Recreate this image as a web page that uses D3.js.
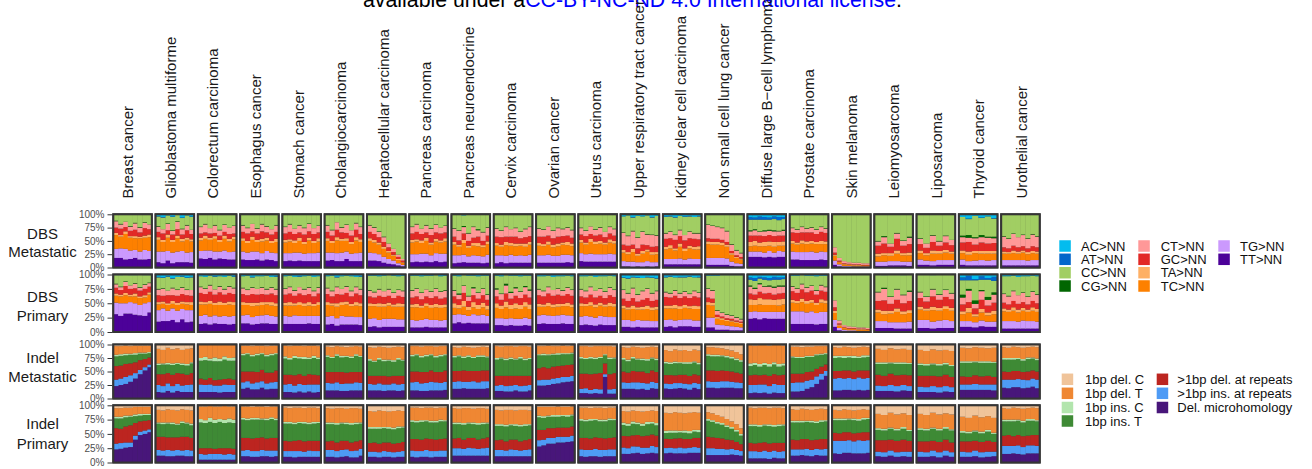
<!DOCTYPE html>
<html><head><meta charset="utf-8">
<script src="https://cdn.jsdelivr.net/npm/d3@7"></script>
<style>body{margin:0;background:#fff;} svg{display:block;font-family:"Liberation Sans",Arial,Helvetica,sans-serif;}</style>
</head><body><svg id="c" width="1312" height="469"></svg>
<script>
const cancerTypes = ["Breast cancer","Glioblastoma multiforme","Colorectum carcinoma","Esophagus cancer","Stomach cancer","Cholangiocarcinoma","Hepatocellular carcinoma","Pancreas carcinoma","Pancreas neuroendocrine","Cervix carcinoma","Ovarian cancer","Uterus carcinoma","Upper respiratory tract cancer","Kidney clear cell carcinoma","Non small cell lung cancer","Diffuse large B\u2212cell lymphoma","Prostate carcinoma","Skin melanoma","Leiomyosarcoma","Liposarcoma","Thyroid cancer","Urothelial cancer"];
const dbsClasses = ["AC>NN","AT>NN","CC>NN","CG>NN","CT>NN","GC>NN","TA>NN","TC>NN","TG>NN","TT>NN"];
const dbsColors = ["#03BCEE","#0266CA","#A1CE63","#016601","#FF9898","#E22926","#FEB065","#FD8000","#CB99FD","#4C0199"];
const indelClasses = ["1bp del. C","1bp del. T","1bp ins. C","1bp ins. T",">1bp del. at repeats",">1bp ins. at repeats","Del. microhomology"];
const indelColors = ["#F0C49A","#EF8733","#B2E5AD","#3E8A35","#BC2520","#4E9BF5","#48167A"];
const yTicks = [0, 0.25, 0.5, 0.75, 1];
const rowNames = [["DBS","Metastatic"],["DBS","Primary"],["Indel","Metastatic"],["Indel","Primary"]];

// bars separated by "|", values in class order (relative, normalised per bar)
const dbsMetastatic = [
"0 0 12 1 12 10 4 26 17 18|0 0 18 1 8 12 3 22 18 18|0 0 14 0 10 8 5 28 20 15|0 0 22 1 8 10 3 24 16 16|0 0 16 1 12 12 4 22 15 18|0 0 24 1 9 8 3 25 15 15|0 0 15 1 10 14 4 23 18 15|0 0 19 0 9 10 5 26 15 16",
"3 1 18 1 10 10 5 22 20 10|5 1 22 0 8 12 4 18 22 8|2 0 15 1 12 8 6 25 18 13|4 1 25 1 7 10 4 20 20 8|1 0 12 1 14 12 5 25 20 10|6 1 20 1 10 8 5 18 21 10|2 0 18 1 9 14 4 24 18 10|4 1 24 0 8 10 4 20 20 9",
"1 0 22 1 12 8 5 20 14 17|0 0 18 1 15 6 6 22 16 16|1 0 25 0 10 8 4 20 14 18|0 0 20 1 14 6 5 24 15 15|1 0 28 1 10 8 4 18 13 17|0 0 19 1 13 7 6 22 16 16|1 0 24 0 12 9 5 20 14 15|0 0 21 1 14 6 5 23 15 15",
"0 0 20 1 12 12 5 20 15 15|1 0 24 1 10 14 4 18 14 14|0 0 18 0 14 10 6 22 16 14|0 0 26 1 9 12 4 18 15 15|1 0 17 1 13 14 5 22 14 13|0 0 22 1 11 10 5 20 16 15|0 0 28 0 10 12 4 18 14 14|1 0 19 1 12 13 6 21 15 12",
"1 0 22 1 12 12 5 20 15 12|0 0 18 1 14 14 4 22 14 13|1 0 26 0 10 12 5 18 16 12|0 0 20 1 13 10 6 22 15 13|1 0 24 1 12 14 4 18 14 12|0 0 17 1 14 12 5 24 15 12|1 0 25 0 11 13 4 19 15 12|0 0 21 1 12 11 6 21 16 12",
"0 0 20 1 12 12 5 22 15 13|1 0 28 1 10 10 4 18 14 14|0 0 15 0 14 14 6 24 15 12|0 0 24 1 9 12 4 22 16 12|1 0 18 1 15 10 5 20 14 16|0 0 30 0 10 12 4 18 14 12|0 0 16 1 12 14 6 24 15 12|1 0 22 1 13 10 5 20 16 12",
"0 0 20 1 12 12 5 22 15 13|0 0 24 1 12 11 5 20 14 13|0 0 32 1 10 10 4 18 13 12|0 0 42 1 9 9 4 15 11 9|0 0 55 0 7 7 3 12 9 7|0 0 65 0 6 5 2 9 7 6|0 0 76 0 4 4 2 6 4 4|0 0 84 0 3 3 1 4 3 2",
"1 0 22 1 12 12 5 22 15 10|0 0 18 1 14 14 4 24 14 11|1 0 26 0 10 12 5 20 16 10|0 0 20 1 13 10 6 24 15 11|1 0 25 1 12 14 4 20 13 10|0 0 19 1 14 12 5 22 15 12|1 0 24 0 11 13 4 21 16 10|0 0 21 1 12 11 6 23 15 11",
"1 0 25 1 15 10 5 20 15 8|0 0 30 1 18 8 4 16 14 9|2 0 20 2 12 12 6 22 14 10|0 0 35 1 14 9 4 16 12 9|1 0 22 1 20 10 5 18 14 9|0 0 28 2 12 12 6 18 13 9|1 0 32 1 16 8 4 17 13 8|0 0 24 1 15 11 5 20 15 9",
"1 0 25 1 15 12 5 18 15 8|0 0 30 1 12 14 4 16 13 10|1 0 22 1 18 10 6 20 14 8|0 0 28 0 14 12 5 17 15 9|1 0 24 1 16 13 5 18 13 9|0 0 32 1 12 10 4 18 14 9|1 0 26 1 15 12 6 17 13 9|0 0 23 1 17 11 5 19 15 9",
"1 0 25 1 15 12 5 18 14 9|0 0 28 1 13 14 4 17 14 9|1 0 22 0 17 11 6 19 15 9|0 0 30 1 14 12 5 16 13 9|1 0 24 1 16 13 5 18 13 9|0 0 27 1 13 12 4 19 15 9|1 0 23 1 15 12 6 18 14 10|0 0 29 1 14 11 5 17 14 9",
"0 0 25 1 12 10 5 20 15 12|0 0 30 1 10 12 4 18 14 11|1 0 22 0 14 9 6 22 15 11|0 0 28 1 11 11 5 19 14 11|0 0 24 1 13 12 5 20 14 11|1 0 32 0 10 10 4 18 14 11|0 0 23 1 12 11 6 21 15 11|0 0 27 1 12 10 5 20 14 11",
"4 0 30 1 22 10 5 16 10 2|2 0 38 1 18 12 4 14 9 2|5 1 25 1 25 8 6 18 10 1|3 0 40 1 20 10 4 12 8 2|4 0 28 1 24 12 5 16 9 1|2 0 35 1 20 8 4 18 10 2|5 1 32 1 22 10 5 14 9 1|3 0 36 1 20 11 4 15 8 2",
"4 1 30 1 10 15 5 18 10 6|3 1 28 1 12 13 6 20 10 6|5 1 32 1 9 16 4 16 10 6|3 0 26 1 11 14 6 22 11 6|4 1 34 0 10 15 5 16 9 6|3 1 28 1 12 14 5 19 11 6|5 0 30 1 10 15 5 18 10 6|3 1 31 1 11 13 6 18 10 6",
"1 0 18 1 25 6 5 26 13 5|1 0 20 1 24 6 5 25 13 5|1 0 22 1 22 6 5 25 13 5|1 0 24 1 22 5 5 24 13 5|1 0 30 1 20 5 4 22 12 5|1 0 55 1 12 4 3 13 8 3|1 0 66 1 9 3 2 10 6 2|1 0 72 1 7 3 2 8 5 2",
"5 5 20 2 8 12 8 10 10 20|6 4 18 2 10 10 9 11 10 20|4 6 22 1 7 13 7 10 10 20|5 5 20 2 9 11 8 12 9 19|6 4 19 2 8 12 8 10 11 20|4 5 21 2 9 11 9 11 9 19|5 6 20 1 8 12 7 10 11 20|5 4 20 2 9 11 8 11 10 20",
"0 0 25 1 8 16 5 15 15 15|0 0 28 1 6 18 4 14 14 15|1 0 22 1 10 15 6 16 15 14|0 0 26 1 7 17 5 15 15 14|0 0 24 1 9 16 5 15 16 14|1 0 27 1 8 15 4 16 14 14|0 0 23 1 9 17 6 14 15 15|0 0 26 1 8 16 5 15 15 14",
"0 0 62 0 10 4 2 9 8 5|0 0 82 0 5 2 1 4 4 2|0 0 88 0 4 1 1 3 2 1|0 0 90 0 3 1 1 2 2 1|0 0 91 0 3 1 1 2 1 1|0 0 91 0 3 1 1 2 1 1|0 0 92 0 3 1 0 2 1 1|0 0 92 0 3 1 0 2 1 1",
"0 0 50 1 8 15 5 10 8 3|1 0 40 2 12 18 4 12 8 3|0 0 55 0 6 12 5 10 8 4|0 0 35 1 10 22 6 14 8 4|1 0 48 1 9 14 4 12 7 4|0 0 42 2 12 16 5 12 8 3",
"0 0 45 1 10 12 5 12 10 5|0 0 55 0 8 10 4 10 8 5|1 0 38 1 12 16 6 14 8 4|0 0 50 1 8 10 5 12 9 5|0 0 40 1 12 14 5 14 9 5|0 0 48 0 10 12 4 12 9 5",
"5 0 35 3 10 15 5 12 10 5|8 1 30 5 8 18 6 12 8 4|3 0 40 2 12 12 4 14 9 4|6 1 32 4 10 16 5 12 10 4|4 0 38 2 11 14 5 13 9 4|7 1 34 3 9 15 5 12 10 4",
"1 0 40 1 20 8 4 12 10 4|0 0 45 1 18 7 3 12 10 4|1 0 35 1 22 9 5 13 10 4|1 0 42 0 19 8 4 12 10 4|0 0 38 1 21 8 4 14 10 4|1 0 44 1 18 7 4 12 9 4|1 0 36 1 22 9 4 13 10 4|0 0 41 1 20 8 4 12 10 4"
];
const dbsPrimary = [
"1 0 15 1 6 10 4 12 20 31|1 0 20 1 5 8 3 12 22 28|0 0 12 1 7 12 4 14 18 32|1 0 18 0 6 10 3 10 20 32|1 0 14 1 8 9 5 12 20 30|0 0 22 1 5 10 3 12 18 29|1 0 16 1 7 11 4 10 22 28|1 0 13 1 6 10 4 13 18 34",
"4 1 20 1 10 12 4 10 20 18|5 1 18 1 12 10 4 8 22 19|3 1 24 0 8 14 3 10 18 19|6 1 16 1 12 10 5 8 20 21|4 0 22 1 10 12 4 10 20 17|3 1 18 1 11 13 4 9 18 22|5 1 20 1 9 12 4 10 21 17|4 1 22 0 10 11 5 9 20 18",
"3 0 18 1 10 15 5 20 14 14|4 0 20 1 9 14 4 18 15 15|2 0 16 1 11 16 5 22 14 13|3 1 22 0 9 14 4 18 14 15|3 0 17 1 10 16 6 20 13 14|4 0 21 1 9 14 4 19 14 14|2 0 18 1 11 15 5 21 14 13|3 1 19 1 10 14 5 19 14 14",
"3 0 20 1 10 14 5 18 14 15|2 0 24 1 9 13 4 17 15 15|4 1 17 1 11 15 6 19 13 13|3 0 22 0 10 14 5 18 14 14|3 0 19 1 11 14 5 18 14 15|2 0 23 1 9 13 4 18 15 15|4 0 18 1 10 15 6 18 14 14|3 1 21 1 10 14 5 18 13 14",
"3 0 21 1 10 14 5 18 14 14|2 0 19 1 11 15 6 19 13 14|4 0 23 1 9 13 4 17 15 14|3 1 18 0 11 15 5 19 14 14|3 0 22 1 10 14 5 17 14 14|2 0 20 1 11 14 6 18 13 15|4 0 24 1 9 13 4 17 14 14|3 0 19 1 10 15 5 19 14 14",
"3 0 20 1 10 14 5 20 14 13|2 0 26 1 9 12 4 18 14 14|4 1 16 1 12 16 6 20 13 11|3 0 22 0 10 13 5 19 15 13|2 0 18 1 11 15 5 21 14 13|3 0 25 1 9 13 4 18 14 13|4 0 17 1 11 15 6 20 13 13|3 1 21 1 10 14 5 19 14 12",
"2 0 25 1 10 12 5 22 14 9|2 0 28 1 9 11 4 21 14 10|3 0 22 1 11 13 6 23 13 8|2 0 27 0 10 12 5 21 14 9|1 0 24 1 11 12 5 23 14 9|2 0 29 1 9 11 4 21 14 9|3 0 23 1 10 13 6 22 13 9|2 0 26 1 10 12 5 22 13 9",
"2 0 25 1 12 12 5 22 13 8|2 0 22 1 13 13 6 23 12 8|3 0 28 1 11 11 4 21 13 8|2 0 24 0 12 12 5 22 14 9|2 0 27 1 11 12 5 21 13 8|1 0 23 1 13 13 6 22 13 8|3 0 26 1 12 11 5 22 12 8|2 0 25 1 12 12 5 22 13 8",
"2 0 25 1 10 12 8 12 15 15|3 0 30 2 8 10 6 10 14 17|1 0 18 1 12 14 10 14 15 15|2 0 35 1 8 10 6 10 12 16|2 0 20 2 12 12 9 12 16 15|3 0 28 1 10 11 7 11 14 15|2 0 22 1 11 13 8 13 15 15|2 0 32 1 9 10 7 11 13 15",
"2 0 22 2 12 12 8 18 12 12|3 0 30 1 10 10 6 16 12 12|1 0 15 3 14 14 10 20 12 11|2 0 28 2 10 11 7 16 12 12|2 0 20 2 13 13 9 18 12 11|3 0 26 1 11 12 7 17 12 11|2 0 18 2 13 13 8 19 13 12|2 0 24 2 12 12 8 17 12 11",
"3 0 22 1 10 15 5 15 15 14|3 0 25 1 9 14 4 14 15 15|2 0 19 1 11 16 6 16 15 14|4 0 23 0 10 15 5 15 14 14|3 0 21 1 10 16 5 15 15 14|3 0 24 1 9 14 4 15 15 15|2 0 20 1 11 15 6 16 15 14|3 0 23 1 10 15 5 15 14 14",
"3 0 22 1 12 12 5 18 15 12|3 0 25 1 11 11 4 17 15 13|2 0 19 1 13 13 6 19 15 12|4 0 24 0 12 12 5 18 14 11|3 0 21 1 12 12 5 18 15 13|3 0 26 1 11 11 4 17 15 12|2 0 20 1 13 13 6 19 14 12|3 0 23 1 12 12 5 18 14 12",
"5 1 20 1 15 12 5 20 12 9|6 1 25 1 13 11 4 18 12 9|4 1 18 1 17 13 6 21 11 8|5 1 28 1 12 10 4 18 12 9|6 0 22 1 15 12 5 19 12 8|4 1 19 1 16 13 6 20 12 8|5 1 26 1 13 11 5 19 11 8|6 1 21 1 15 12 5 20 11 8",
"4 1 25 1 8 15 5 20 12 9|3 1 28 1 7 14 5 19 12 10|5 0 22 1 9 16 6 21 12 8|4 1 27 1 8 14 5 19 11 10|4 1 24 1 8 15 5 20 12 10|3 1 29 1 7 14 4 19 12 10|5 0 23 1 9 16 6 20 11 9|4 1 26 1 8 15 5 20 11 9",
"2 0 22 1 15 8 5 22 17 8|2 0 25 1 14 7 5 21 17 8|2 0 60 1 7 4 3 10 9 4|1 0 65 1 6 3 3 9 8 4|1 0 68 1 6 3 2 8 7 4|1 0 70 1 5 3 2 8 7 3|1 0 73 1 5 2 2 7 6 3|1 0 76 1 4 2 2 6 5 3",
"5 4 10 2 12 10 10 12 12 23|6 5 12 2 10 9 9 11 12 24|4 3 8 2 13 11 11 13 13 22|5 4 11 1 12 10 10 12 11 24|6 4 9 2 11 11 10 12 12 23|4 5 12 2 12 9 9 12 12 23|5 4 10 2 12 10 11 11 12 23|5 3 11 2 11 10 10 13 12 23",
"2 0 18 1 8 15 5 15 22 14|2 0 22 1 7 14 4 14 22 14|1 0 15 1 9 16 6 16 22 14|2 0 20 1 8 15 5 15 20 14|2 0 17 1 8 16 5 15 22 14|3 0 24 1 7 14 4 14 20 13|2 0 16 1 9 15 6 16 21 14|2 0 19 1 8 15 5 15 21 14",
"0 0 45 0 12 6 4 12 12 9|0 0 80 0 5 2 2 4 4 3|0 0 88 0 3 1 1 3 2 2|0 0 90 0 3 1 1 2 2 1|0 0 91 0 2 1 1 2 2 1|0 0 92 0 2 1 1 2 1 1|0 0 92 0 2 1 1 2 1 1|0 0 93 0 2 1 0 2 1 1",
"0 0 30 1 15 15 5 15 12 7|1 0 22 2 20 18 6 12 12 7|0 0 38 1 12 12 5 15 10 7|0 0 25 1 18 15 6 18 11 6|1 0 34 1 14 14 5 14 11 6|0 0 28 2 16 16 5 15 12 6",
"0 0 30 1 10 15 5 18 14 7|0 0 38 1 8 12 4 16 14 7|1 0 24 1 12 18 6 20 12 6|0 0 34 1 9 14 5 17 13 7|0 0 26 1 12 16 5 19 14 7|0 0 32 1 10 15 5 18 12 7",
"5 5 25 5 12 12 5 12 10 9|2 8 15 3 20 10 8 15 10 9|8 2 35 6 8 10 4 10 9 8|3 6 18 2 15 16 6 14 10 10|6 3 30 5 10 12 5 11 9 9|4 7 20 4 14 14 6 13 9 9",
"3 0 30 1 15 10 5 17 13 6|3 0 34 1 14 9 4 16 13 6|2 0 26 1 17 11 6 18 13 6|4 0 32 0 15 10 5 16 12 6|3 0 28 1 16 10 5 17 14 6|3 0 35 1 13 9 4 16 13 6|2 0 27 1 16 11 6 18 13 6|3 0 31 1 15 10 5 17 12 6"
];
const indelMetastatic = [
"3 16 3 18 25 12 23|3 15 3 18 24 12 25|2 15 3 16 24 13 27|3 14 2 16 22 12 31|2 14 3 14 20 10 37|2 13 2 12 18 8 45|2 13 2 10 15 6 52|2 12 2 8 13 5 58",
"8 27 3 17 20 13 12|10 25 2 18 22 12 11|6 28 3 16 19 14 14|9 26 3 18 21 12 11|7 27 2 17 20 13 14|10 25 3 16 22 12 12|8 28 3 17 19 13 12|7 26 2 18 21 14 12",
"1 24 5 33 11 14 12|1 22 6 36 10 13 12|0 26 4 32 12 14 12|1 23 7 35 10 12 12|1 25 5 34 11 13 11|0 22 6 36 10 14 12|1 24 5 33 12 13 12|1 23 6 35 10 13 12",
"2 15 3 30 20 12 18|2 14 2 32 18 12 20|3 16 3 28 22 11 17|2 15 3 31 19 13 17|2 14 2 29 21 12 20|3 16 3 30 20 11 17|2 15 3 32 18 12 18|2 14 2 30 21 13 18",
"2 20 4 30 18 14 12|3 22 3 28 17 15 12|2 19 4 32 19 13 11|2 21 3 29 18 14 13|3 20 4 31 17 14 11|2 22 3 28 19 13 13|2 19 4 31 18 15 11|3 21 3 30 17 14 12",
"4 16 3 28 20 14 15|5 18 2 26 21 13 15|3 15 3 30 19 15 15|4 17 3 27 22 13 14|5 16 2 29 20 14 14|4 18 3 26 21 13 15|3 15 3 30 19 15 15|4 17 2 28 20 14 15",
"5 22 3 28 15 12 15|6 24 2 26 16 11 15|4 21 3 30 14 13 15|5 23 3 27 16 12 14|6 22 2 29 15 11 15|5 24 3 26 14 13 15|4 21 3 30 16 12 14|5 23 2 28 15 12 15",
"3 16 3 28 20 15 15|3 15 2 30 19 16 15|4 17 3 27 21 14 14|3 16 3 29 20 15 14|3 15 2 28 21 16 15|4 17 3 27 19 15 15|3 16 3 29 20 14 15|3 15 2 28 21 15 16",
"5 16 3 25 20 13 18|6 14 2 27 19 14 18|4 18 3 23 21 12 19|5 15 3 26 20 13 18|6 17 2 24 19 14 18|5 15 3 26 21 12 18|4 16 3 25 20 14 18|5 17 2 24 20 13 19",
"3 22 3 30 18 10 14|4 20 2 32 17 11 14|3 23 3 29 19 10 13|3 21 3 31 18 11 13|4 22 2 30 17 10 15|3 20 3 32 19 10 13|3 23 3 29 18 11 13|4 21 2 31 17 10 15",
"3 15 2 24 22 10 24|3 14 3 22 23 11 24|2 16 2 24 21 10 25|3 14 2 22 22 10 27|3 13 3 21 22 10 28|2 14 2 21 21 10 30|3 13 2 20 22 9 31|2 13 2 20 21 10 32",
"3 20 3 28 28 8 10|3 22 2 27 27 9 10|4 19 3 29 29 7 9|3 21 3 27 28 8 10|3 20 2 28 30 8 9|3 15 2 15 20 5 40|3 21 3 28 28 8 9|4 20 2 27 29 9 9",
"5 20 3 22 20 12 18|6 22 3 21 19 11 18|4 19 3 23 21 12 18|5 21 2 22 20 13 17|6 20 3 21 21 11 18|5 22 3 23 19 12 16|4 20 2 22 21 12 19|5 21 3 22 20 11 18",
"10 21 3 21 15 9 18|12 20 3 20 16 9 17|9 22 3 22 14 10 18|11 21 2 21 15 9 19|10 22 3 20 16 9 18|12 20 3 22 15 10 16|9 21 2 21 15 9 19|11 22 3 20 15 10 17",
"5 13 3 27 20 12 20|5 14 3 26 21 11 20|6 13 3 27 20 12 19|7 13 2 26 20 12 20|9 12 3 25 19 12 20|11 12 3 24 19 11 20|14 12 3 23 18 11 19|18 11 3 22 17 10 19",
"1 34 5 17 18 15 10|2 32 4 18 19 14 11|1 35 5 16 17 16 10|1 33 4 18 18 15 11|2 34 5 17 19 14 9|1 32 4 18 18 16 11|1 35 5 16 18 15 10|2 33 4 17 19 15 10",
"4 18 2 30 17 16 13|4 19 2 29 16 17 13|5 18 2 29 16 16 14|4 17 2 28 16 15 18|4 17 2 27 15 14 21|3 15 2 25 14 14 27|3 14 2 22 13 11 35|3 13 2 19 12 9 42",
"5 16 4 24 14 22 15|6 15 3 25 13 23 15|4 17 4 23 15 21 16|5 16 3 24 14 22 16|6 15 4 25 14 21 15|5 17 3 23 13 23 16|4 16 4 24 15 22 15|5 15 3 25 14 22 16",
"8 25 3 20 20 10 14|10 23 3 22 19 9 14|7 26 2 19 21 11 14|9 24 3 21 20 10 13|8 25 3 20 19 10 15|10 24 2 21 20 9 14",
"10 25 3 20 20 10 12|12 24 3 19 21 9 12|9 26 2 21 19 11 12|11 25 3 20 20 10 11|10 24 3 19 21 10 13|12 26 2 20 19 9 12",
"6 25 3 25 15 10 16|7 24 3 26 14 10 16|5 26 2 24 16 11 16|6 25 3 25 15 10 16|7 24 3 24 16 10 16|6 26 2 26 14 11 15",
"5 20 3 22 15 15 20|6 19 3 23 14 16 19|4 21 3 21 16 14 21|5 20 2 22 15 15 21|6 21 3 21 14 16 19|5 19 3 23 16 14 20|4 20 2 22 15 15 22|5 21 3 21 15 16 19"
];
const indelPrimary = [
"5 15 3 17 27 10 23|5 15 3 18 25 10 24|4 14 3 16 28 9 26|4 14 2 15 30 8 27|3 13 3 12 22 7 40|3 12 3 10 18 6 48|3 12 2 10 17 6 50|3 12 2 9 16 5 53",
"8 22 2 23 23 10 12|9 21 3 22 24 9 12|7 23 2 24 22 11 11|8 22 3 23 23 10 11|9 23 2 22 22 10 12|7 21 3 24 24 9 12|8 22 2 23 23 11 11|9 23 3 22 22 10 11",
"2 22 6 45 10 10 5|2 24 5 44 11 9 5|1 21 7 46 10 10 5|2 23 6 45 9 10 5|2 22 5 46 10 10 5|1 24 6 44 11 9 5|2 21 7 45 10 10 5|2 23 6 45 10 9 5",
"2 20 3 32 22 10 11|2 21 3 31 21 11 11|3 19 3 33 22 10 10|2 20 3 32 23 10 10|2 21 2 31 22 11 11|3 20 3 32 21 10 11|2 19 3 33 22 11 10|2 21 3 31 22 10 11",
"4 25 3 30 18 10 10|5 24 3 31 17 10 10|4 26 3 29 18 11 9|4 25 2 30 19 10 10|5 24 3 31 18 9 10|4 26 3 29 17 11 10|4 25 3 30 18 10 10|5 24 2 31 18 10 10",
"5 25 3 30 15 12 10|6 24 3 29 16 12 10|5 26 3 31 15 11 9|5 25 2 30 16 12 10|6 24 3 29 15 12 11|5 26 3 31 15 11 9|5 25 3 30 16 12 9|6 24 2 29 15 12 12",
"10 28 3 25 15 9 10|11 27 3 24 16 9 10|9 29 3 26 15 9 9|10 28 2 25 15 10 10|11 27 3 24 16 9 10|10 29 3 25 15 9 9|9 28 3 26 15 9 10|10 27 2 25 16 10 10",
"4 22 3 30 20 11 10|4 23 3 29 21 11 9|5 21 3 31 20 10 10|4 22 2 30 20 12 10|4 23 3 29 21 11 9|5 22 3 30 20 10 10|4 21 3 31 20 11 10|4 22 2 30 21 11 10",
"5 25 3 25 17 13 12|6 24 3 24 18 13 12|5 26 3 26 16 12 12|5 25 2 25 17 14 12|6 24 3 24 18 13 12|5 26 3 26 16 12 12|5 25 3 25 17 13 12|6 24 2 24 18 14 12",
"8 25 3 25 17 11 11|9 24 3 24 18 11 11|8 26 3 26 16 10 11|8 25 2 25 17 12 11|9 24 3 24 18 11 11|8 26 3 26 16 10 11|8 25 3 25 17 11 11|9 24 2 24 18 12 11",
"3 15 3 22 18 11 28|3 16 3 21 17 10 30|3 15 2 20 17 10 33|3 14 3 20 17 10 33|2 15 3 19 16 10 35|3 14 2 20 16 10 35|3 14 3 19 16 9 36|2 14 2 19 16 10 37",
"4 20 3 30 20 12 11|4 21 3 29 21 12 10|5 19 3 31 20 11 11|4 20 2 30 20 13 11|4 21 3 29 21 12 10|5 20 3 30 20 11 11|4 19 3 31 20 12 11|4 20 2 30 21 12 11",
"10 20 4 19 20 11 15|11 21 4 18 21 10 15|9 19 4 20 19 12 16|10 20 3 19 20 11 17|11 21 4 18 20 11 15|10 19 4 20 21 10 16|9 20 3 19 20 12 17|10 21 4 18 20 11 16",
"13 31 4 10 16 9 16|14 30 4 11 15 9 17|12 32 4 10 17 9 16|13 31 3 10 16 10 16|14 30 4 11 16 9 16|13 32 4 10 15 9 17|12 31 3 11 16 10 17|13 30 4 10 17 9 17",
"12 12 3 28 20 12 13|14 12 3 27 19 12 13|17 12 3 25 19 11 13|20 11 3 24 18 11 13|24 11 3 22 17 10 13|28 10 3 20 15 10 14|33 10 3 18 14 9 13|40 10 3 15 12 8 12",
"4 28 3 28 14 12 7|5 27 3 29 13 12 7|4 29 3 27 15 11 7|4 28 2 28 14 13 7|5 27 3 29 14 12 6|4 29 3 27 13 12 8|4 28 3 28 15 11 7|5 27 2 29 14 12 7",
"7 20 3 30 17 11 12|8 19 3 31 16 11 12|6 21 3 29 18 10 13|7 20 2 30 17 12 12|8 19 3 31 17 11 11|7 21 3 29 16 11 13|6 20 3 30 18 11 12|7 19 2 31 17 12 12",
"8 15 3 22 14 22 16|9 14 3 23 13 23 15|7 16 3 21 15 21 17|8 15 2 22 14 22 17|9 14 3 23 14 21 16|8 16 3 21 13 23 16|7 15 3 22 15 22 16|8 14 2 23 14 22 17",
"15 25 3 18 20 8 11|17 24 3 17 21 8 10|13 26 2 19 19 9 12|16 25 3 18 20 8 10|14 24 3 19 21 8 11|17 26 2 17 19 9 10",
"15 25 3 20 18 9 10|17 24 3 19 19 8 10|13 26 2 21 17 10 11|16 25 3 20 18 9 9|14 24 3 19 19 9 12|16 26 2 21 17 8 10",
"20 25 3 15 18 9 10|22 24 3 14 19 8 10|18 26 2 16 17 10 11|21 25 3 15 18 9 9|19 24 3 16 19 9 10|22 26 2 14 17 8 11",
"5 20 3 25 18 14 15|6 19 3 24 19 14 15|4 21 3 26 17 13 16|5 20 2 25 18 15 15|6 21 3 24 19 13 14|5 19 3 26 17 14 16|4 20 3 25 18 14 16|5 21 2 24 19 13 16"
];

const FONT = '"Liberation Sans", Arial, Helvetica, sans-serif';
const svg = d3.select("#c");

// header (cut-off licence line)
const hdr = svg.append("text").attr("x", 363).attr("y", 7).style("font-size", "21.3px").attr("fill", "#000");
hdr.append("tspan").text("available under a");
hdr.append("tspan").attr("fill", "#0000FF").text("CC-BY-NC-ND 4.0 International license");
hdr.append("tspan").text(".");

const x = d3.scaleBand().domain(cancerTypes).range([112.3, 1040.7]).paddingInner(0.042);

const rows = [
  {data: dbsMetastatic, keys: dbsClasses, colors: dbsColors, y0: 213.3, y1: 268.5, lab: [239.3, 257.3]},
  {data: dbsPrimary, keys: dbsClasses, colors: dbsColors, y0: 273.5, y1: 333, lab: [301.7, 320.7]},
  {data: indelMetastatic, keys: indelClasses, colors: indelColors, y0: 343.5, y1: 399.5, lab: [363.3, 382.3]},
  {data: indelPrimary, keys: indelClasses, colors: indelColors, y0: 404.3, y1: 463.5, lab: [429, 448.5]}
];

// column labels
svg.append("g").selectAll("text").data(cancerTypes).join("text")
  .attr("transform", (d, i) => `translate(${133.3 + 42.55 * i},198.5) rotate(-90)`)
  .attr("text-anchor", "start").style("font-size", "15px").attr("fill", "#1a1a1a")
  .text(d => d);

rows.forEach((r, ri) => {
  const y = d3.scaleLinear().domain([0, 1]).range([r.y1 - 1, r.y0 + 1]);
  const lt = svg.append("g");
  rowNames[ri].forEach((t, k) => {
    lt.append("text").attr("x", 42.5).attr("y", r.lab[k]).attr("text-anchor", "middle")
      .style("font-size", "15px").attr("fill", "#1a1a1a").text(t);
  });
  const ax = d3.axisLeft(y).tickValues(yTicks).tickFormat(d3.format(".0%")).tickSize(4.8).tickPadding(3);
  const g = svg.append("g").attr("transform", "translate(112.3,0)").call(ax);
  g.select(".domain").remove();
  g.selectAll(".tick line").attr("stroke", "#333").attr("stroke-width", 1);
  g.selectAll(".tick text").attr("fill", "#4d4d4d").style("font-size", "10px").style("font-family", FONT);

  const stackKeys = r.keys.slice().reverse();
  cancerTypes.forEach((ct, i) => {
    const bars = r.data[i].split("|").map(s => s.trim().split(/\s+/).map(Number));
    const objs = bars.map((v, j) => { const o = {idx: j}; r.keys.forEach((k, m) => o[k] = v[m]); return o; });
    const series = d3.stack().keys(stackKeys).offset(d3.stackOffsetExpand)(objs);
    const px = x(ct), pw = x.bandwidth();
    const bx = d3.scaleBand().domain(d3.range(bars.length)).range([px + 1, px + pw - 1]);
    const pg = svg.append("g");
    pg.append("rect").attr("x", px).attr("y", r.y0).attr("width", pw).attr("height", r.y1 - r.y0).attr("fill", "#3a3a3a");
    pg.selectAll("g.s").data(series).join("g").attr("class", "s")
      .attr("fill", s => r.colors[r.keys.indexOf(s.key)])
      .selectAll("rect").data(s => s).join("rect")
      .attr("x", (d, j) => bx(j))
      .attr("width", (d, j) => bx.bandwidth() + (j < bars.length - 1 ? 0.4 : 0))
      .attr("y", d => y(d[1]))
      .attr("height", d => Math.max(0, y(d[0]) - y(d[1])));
    pg.append("rect").attr("x", px + 1).attr("y", r.y0 + 1).attr("width", pw - 2).attr("height", r.y1 - r.y0 - 2)
      .attr("fill", "none").attr("stroke", "#353535").attr("stroke-width", 2);
  });
});

function legend(keys, colors, sqX, txtX, rowC, sq) {
  const lg = svg.append("g");
  keys.forEach((k, i) => {
    const col = Math.floor(i / 4), row = i % 4;
    const cy = rowC[row];
    lg.append("rect").attr("x", sqX[col]).attr("y", cy - sq / 2).attr("width", sq).attr("height", sq).attr("fill", colors[i]);
    lg.append("text").attr("x", txtX[col]).attr("y", cy + 4.6).style("font-size", "13px").attr("fill", "#111").text(k);
  });
}
legend(dbsClasses, dbsColors, [1059.3, 1138.3, 1218.3], [1081, 1160.7, 1240], [246, 259.3, 272.7, 286], 11.5);
legend(indelClasses, indelColors, [1061.7, 1156.7], [1085, 1177.3], [379.3, 393.3, 407.5, 421], 11.5);
</script>
</body></html>
